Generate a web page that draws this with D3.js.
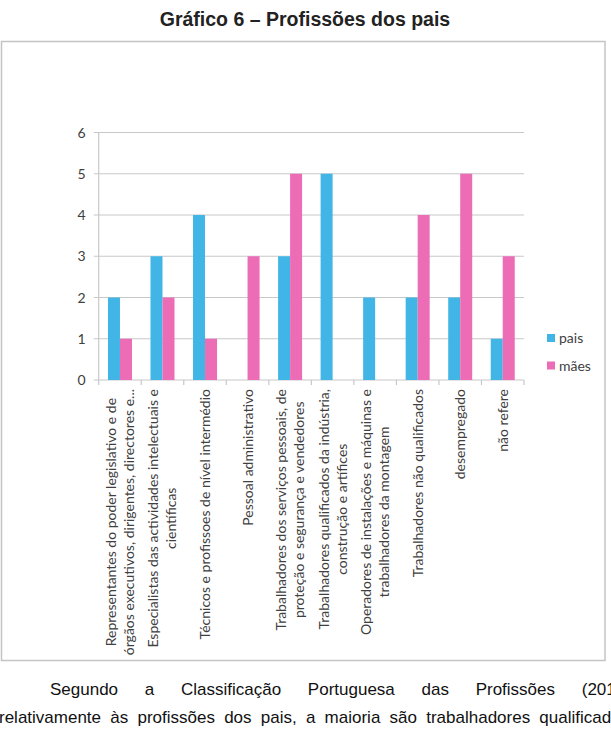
<!DOCTYPE html>
<html>
<head>
<meta charset="utf-8">
<script src="https://cdn.jsdelivr.net/npm/d3@7"></script>
<style>
  html, body { margin: 0; padding: 0; background: #fff; overflow: hidden; }
  svg { display: block; }
</style>
</head>
<body>
<svg id="chart" width="611" height="730"></svg>
<script>
// ---- data ----
const categories = [
  "Representantes do poder legislativo e de órgãos executivos, dirigentes, directores e...",
  "Especialistas das actividades intelectuais e científicas",
  "Técnicos e profissoes de nível intermédio",
  "Pessoal administrativo",
  "Trabalhadores dos serviços pessoais, de proteção e segurança e vendedores",
  "Trabalhadores qualificados da indústria, construção e artífices",
  "Operadores de instalações e máquinas e trabalhadores da montagem",
  "Trabalhadores não qualificados",
  "desempregado",
  "não refere"
];
const categoryLines = [
  ["Representantes do poder legislativo e de", "órgãos executivos, dirigentes, directores e..."],
  ["Especialistas das actividades intelectuais e", "científicas"],
  ["Técnicos e profissoes de nível intermédio"],
  ["Pessoal administrativo"],
  ["Trabalhadores dos serviços pessoais, de", "proteção e segurança e vendedores"],
  ["Trabalhadores qualificados da indústria,", "construção e artífices"],
  ["Operadores de instalações e máquinas e", "trabalhadores da montagem"],
  ["Trabalhadores não qualificados"],
  ["desempregado"],
  ["não refere"]
];
const seriesNames = ["pais", "mães"];
const pais = [2, 3, 4, 0, 3, 5, 2, 2, 2, 1];
const maes = [1, 2, 1, 3, 5, 0, 0, 4, 5, 3];
const yTicks = [0, 1, 2, 3, 4, 5, 6];
const titleText = "Gráfico 6 – Profissões dos pais";
const bodyLine1 = "Segundo a Classificação Portuguesa das Profissões (2010),";
const bodyLine2 = "relativamente às profissões dos pais, a maioria são trabalhadores qualificados";

// ---- layout ----
const colors = { "pais": "#41b6e6", "mães": "#ec6cb6" };
const plot = { left: 98.7, right: 524, top: 132.5, bottom: 380 };
const svg = d3.select("#chart");

svg.append("text")
  .attr("x", 305).attr("y", 26)
  .attr("text-anchor", "middle")
  .attr("font-family", "'Liberation Sans', Arial, sans-serif")
  .attr("font-weight", "bold")
  .attr("font-size", 19.5)
  .attr("fill", "#222")
  .text(titleText);

// frame
svg.append("rect")
  .attr("x", 1.5).attr("y", 41.5).attr("width", 603.5).attr("height", 619)
  .attr("fill", "#fff").attr("stroke", "#c4c4c4").attr("stroke-width", 1.5);

const x0 = d3.scaleBand().domain(categories).range([plot.left, plot.right]).padding(0);
const groupW = 24;
const x1 = d3.scaleBand().domain(seriesNames).range([0, groupW]);
const y = d3.scaleLinear().domain([0, 6]).range([plot.bottom, plot.top]);

const labelFont = "Lato, 'Open Sans', sans-serif";
const labelSize = 14;

// gridlines
svg.append("g").selectAll("line").data(yTicks).join("line")
  .attr("x1", plot.left - 5).attr("x2", plot.right)
  .attr("y1", d => y(d)).attr("y2", d => y(d))
  .attr("stroke", "#c8c8c8").attr("stroke-width", 1.2);

// y axis line
svg.append("line")
  .attr("x1", plot.left).attr("x2", plot.left)
  .attr("y1", y(6)).attr("y2", y(0))
  .attr("stroke", "#c8c8c8").attr("stroke-width", 1.2);

// y tick labels
svg.append("g").selectAll("text").data(yTicks).join("text")
  .attr("x", plot.left - 13).attr("y", d => y(d) + 5)
  .attr("text-anchor", "end")
  .attr("font-family", labelFont).attr("font-size", labelSize)
  .attr("fill", "#404040")
  .text(d => d);

// x tick marks at band boundaries
const boundaries = categories.map(c => x0(c)).concat([plot.right]);
svg.append("g").selectAll("line").data(boundaries).join("line")
  .attr("x1", d => d).attr("x2", d => d)
  .attr("y1", plot.bottom).attr("y2", plot.bottom + 5)
  .attr("stroke", "#c8c8c8").attr("stroke-width", 1.2);

// bars
const rows = categories.map((c, i) => ({ cat: c, values: [
  { key: "pais", v: pais[i] }, { key: "mães", v: maes[i] }] }));
const groups = svg.append("g").selectAll("g").data(rows).join("g")
  .attr("transform", d => `translate(${x0(d.cat) + (x0.bandwidth() - groupW) / 2},0)`);
groups.selectAll("rect").data(d => d.values.filter(v => v.v > 0)).join("rect")
  .attr("x", d => x1(d.key)).attr("width", x1.bandwidth())
  .attr("y", d => y(d.v)).attr("height", d => y(0) - y(d.v))
  .attr("fill", d => colors[d.key]);

// category labels (rotated)
const lineH = 18;
const labelTop = 389;
categories.forEach((c, i) => {
  const lines = categoryLines[i];
  const cx = x0(c) + x0.bandwidth() / 2;
  const g = svg.append("g").attr("transform", `translate(${cx},${labelTop}) rotate(-90)`);
  const texts = g.selectAll("text").data(lines).join("text")
    .attr("font-family", labelFont).attr("font-size", labelSize)
    .attr("fill", "#404040")
    .attr("text-anchor", "middle")
    .attr("y", (d, j) => (j - (lines.length - 1) / 2) * lineH + 5)
    .text(d => d);
  let maxW = 0;
  texts.each(function () { maxW = Math.max(maxW, this.getComputedTextLength()); });
  texts.attr("x", -maxW / 2);
});

// legend
const legend = svg.append("g").selectAll("g").data(seriesNames).join("g")
  .attr("transform", (d, i) => `translate(547,${334 + i * 27.5})`);
legend.append("rect").attr("width", 8).attr("height", 8).attr("fill", d => colors[d]);
legend.append("text").attr("x", 12).attr("y", 9)
  .attr("font-family", labelFont).attr("font-size", labelSize)
  .attr("fill", "#404040").text(d => d);

// body text below chart (continues past the page edge, as in the source)
svg.append("text")
  .attr("x", 50).attr("y", 695)
  .attr("font-family", "'Liberation Sans', Arial, sans-serif")
  .attr("font-size", 17).attr("fill", "#111")
  .attr("word-spacing", 22)
  .text(bodyLine1);
svg.append("text")
  .attr("x", -1).attr("y", 723)
  .attr("font-family", "'Liberation Sans', Arial, sans-serif")
  .attr("font-size", 17).attr("fill", "#111")
  .attr("word-spacing", 4.5)
  .text(bodyLine2);
</script>
</body>
</html>
